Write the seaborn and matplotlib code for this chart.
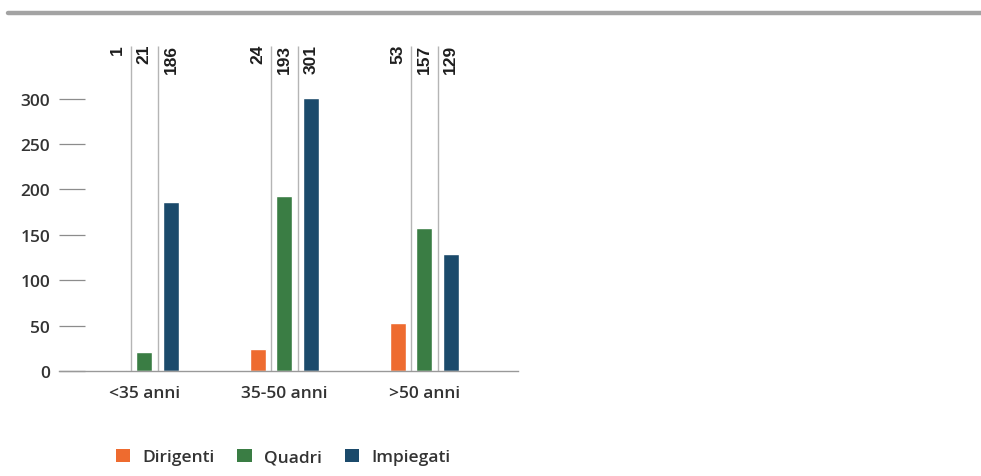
import pandas as pd
import matplotlib.pyplot as plt
import seaborn as sns
from matplotlib.lines import Line2D
from matplotlib.patches import Patch

# dati
gruppi = ["<35 anni", "35-50 anni", ">50 anni"]
categorie = ["Dirigenti", "Quadri", "Impiegati"]
dirigenti = [1, 24, 53]
quadri = [21, 193, 157]
impiegati = [186, 301, 129]
y_ticks = [0, 50, 100, 150, 200, 250, 300]

colori = ["#EE6B2F", "#3A7D44", "#1B4A6B"]
testo = "#333333"

df = pd.DataFrame({
    "gruppo": gruppi * 3,
    "categoria": [c for c in categorie for _ in gruppi],
    "valore": dirigenti + quadri + impiegati,
})

sns.set_style("white")
plt.rcParams['font.family'] = ['Open Sans', 'DejaVu Sans']
plt.rcParams['font.weight'] = 'semibold'

fig = plt.figure(figsize=(9.81, 4.77), dpi=100)
W, H = 981, 477
ax = fig.add_axes([59 / W, (H - 372) / H, (518 - 59) / W, (372 - 45) / H])

larghezza = 0.57
sns.barplot(data=df, x="gruppo", y="valore", hue="categoria", order=gruppi,
            hue_order=categorie, palette=colori, width=larghezza, gap=0.4,
            saturation=1, legend=False, ax=ax)

ax.set_ylim(0, 360)
ax.set_xlim(-0.61, 2.67)
ax.set_yticks(y_ticks)
ax.set_xlabel("")
ax.set_ylabel("")

# linee separatrici tra le barre
passo = larghezza / 3
for i in range(len(gruppi)):
    for dx in (-passo / 2, passo / 2):
        ax.vlines(i + dx, 0, 358, color="#b5b5b5", lw=1, zorder=0)

# etichette valori in alto, ruotate
for cont in ax.containers:
    for bar in cont:
        xc = bar.get_x() + bar.get_width() / 2
        ax.text(xc, 360, f"{bar.get_height():.0f}", rotation=90,
                ha="center", va="top", fontsize=12.5, fontweight="bold",
                color="#1e1e1e", family=["Liberation Sans", "DejaVu Sans"])

for s in ["left", "top", "right"]:
    ax.spines[s].set_visible(False)
ax.spines["bottom"].set_color("#999999")
ax.spines["bottom"].set_linewidth(1)

ax.tick_params(axis="y", left=True, direction="in", length=18.7, width=0.9,
               color="#8c8c8c", pad=6.5, labelsize=12.5, labelcolor=testo)
ax.tick_params(axis="x", bottom=False, length=0, pad=10, labelsize=12.5,
               labelcolor=testo)

# legenda
handles = [Patch(facecolor=c, edgecolor="none") for c in colori]
fig.legend(handles, categorie, loc="center left",
           bbox_to_anchor=(100 / W, 1 - 458 / H), ncol=3, frameon=False,
           fontsize=12.5, handlelength=0.85, handleheight=0.85,
           handletextpad=0.7, columnspacing=1.3, labelcolor=testo)

# barra grigia in alto
fig.add_artist(Line2D([8 / W, 1], [1 - 13.5 / H] * 2, color="#a3a3a3",
                      lw=3.2, transform=fig.transFigure))

fig.savefig("out.png", dpi=100)
